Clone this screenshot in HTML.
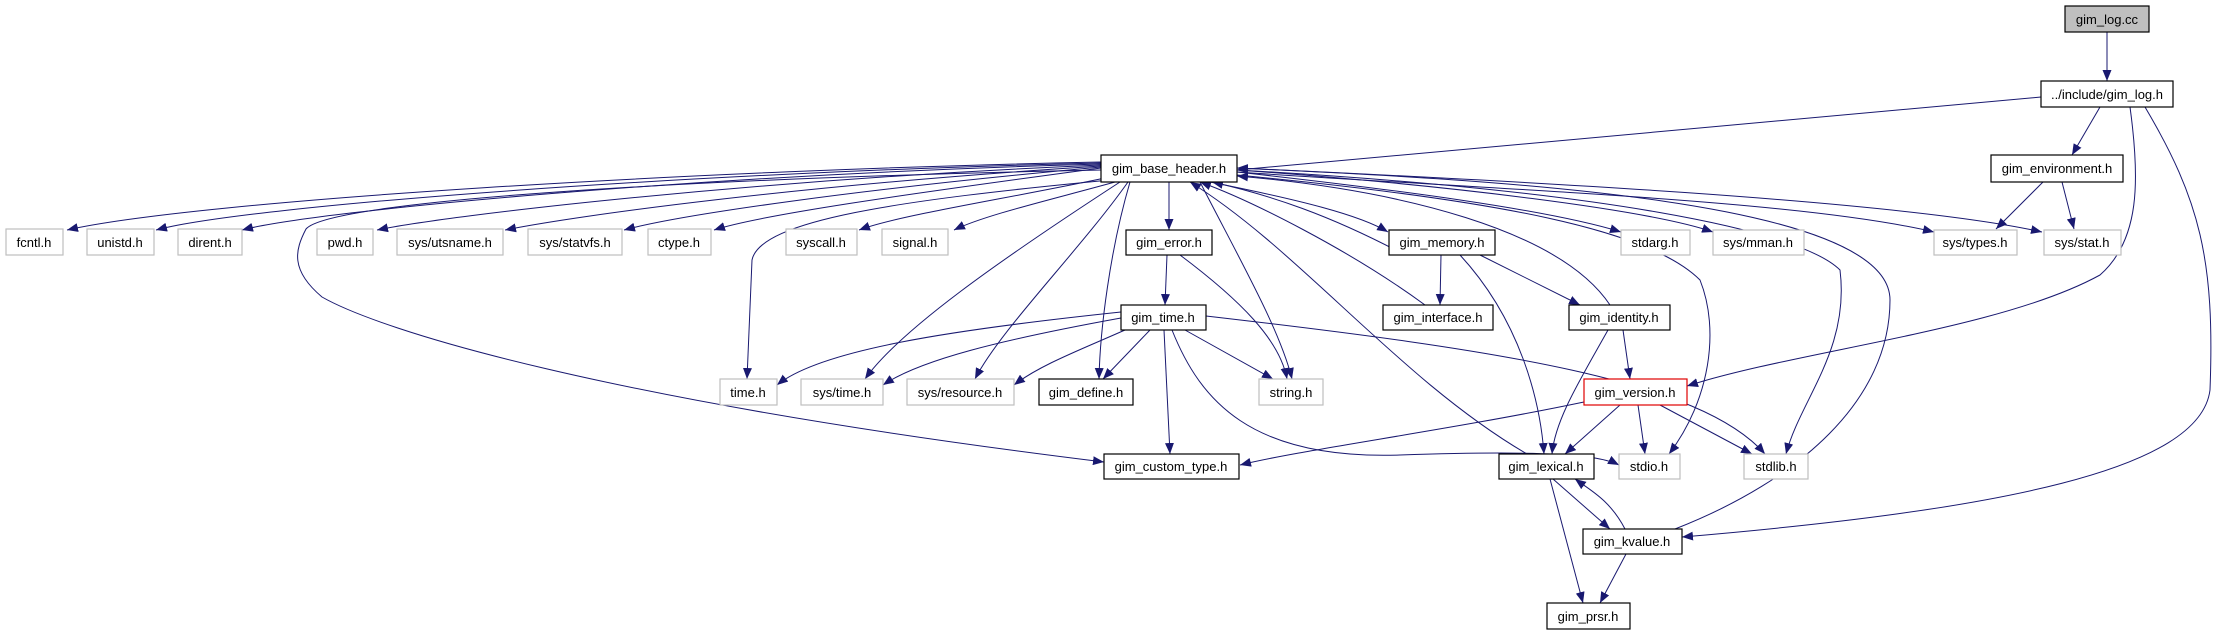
<!DOCTYPE html>
<html><head><meta charset="utf-8"><style>
html,body{margin:0;padding:0;background:#fff;width:2215px;height:635px;overflow:hidden}
svg text{font-family:"Liberation Sans",sans-serif;font-size:13px;fill:#000}
</style></head><body>
<svg width="2215" height="635" viewBox="0 0 2215 635" xmlns="http://www.w3.org/2000/svg">
<defs><marker id="a" markerUnits="userSpaceOnUse" markerWidth="12" markerHeight="9" refX="11" refY="4.5" orient="auto"><path d="M0,0 L11,4.5 L0,9 z" fill="#191970"/></marker></defs>
<g fill="none" stroke="#191970" stroke-width="1" marker-end="url(#a)">
<path d="M2107,32 L2107,81"/>
<path d="M2041,97 L1237,170"/>
<path d="M2100,107 L2072,155"/>
<path d="M2130,107 C2140,180 2140,240 2100,275 C2000,330 1800,350 1687,386"/>
<path d="M2145,107 C2200,200 2215,260 2210,390 C2200,470 2000,510 1682,537"/>
<path d="M2043,182 L1996,229"/>
<path d="M2062,182 L2074,229"/>
<path d="M1237,172 C1500,190 1800,200 1934,232"/>
<path d="M1237,168 C1500,180 1900,200 2042,232"/>
<path d="M1237,172 C1400,190 1550,210 1621,232"/>
<path d="M1237,170 C1450,185 1650,210 1713,232"/>
<path d="M1237,175 C1500,200 1650,230 1700,280 C1720,330 1710,400 1669,454"/>
<path d="M1237,170 C1600,190 1800,230 1840,270 C1850,350 1800,400 1786,454"/>
<path d="M1675,529 C1800,480 1890,400 1890,300 C1890,200 1500,180 1237,168"/>
<path d="M1169,182 L1169,230"/>
<path d="M1167,255 L1165,305"/>
<path d="M1180,255 C1240,300 1280,340 1287,379"/>
<path d="M1200,182 C1240,260 1280,330 1292,379"/>
<path d="M1130,182 C1110,250 1100,330 1099,379"/>
<path d="M1101,170 C700,178 330,200 306,229 C295,250 290,270 322,297 C380,330 600,400 1104,462"/>
<path d="M1110,180 C900,200 760,220 752,260 L747,379"/>
<path d="M1120,182 C1000,260 900,330 865,379"/>
<path d="M1128,182 C1080,250 1000,330 975,379"/>
<path d="M1121,312 C950,330 820,350 777,385"/>
<path d="M1121,318 C1000,340 920,360 883,385"/>
<path d="M1125,330 C1080,350 1040,365 1014,385"/>
<path d="M1150,330 L1103,379"/>
<path d="M1185,330 L1273,379"/>
<path d="M1164,330 L1170,454"/>
<path d="M1172,330 C1200,400 1250,460 1400,455 C1550,450 1600,455 1619,465"/>
<path d="M1206,316 C1500,350 1700,380 1765,454"/>
<path d="M1210,182 C1300,200 1360,215 1388,232"/>
<path d="M1405,255 C1330,215 1270,195 1212,182"/>
<path d="M1441,255 L1440,305"/>
<path d="M1480,255 L1580,305"/>
<path d="M1460,255 C1520,320 1540,400 1544,454"/>
<path d="M1425,305 C1350,250 1250,200 1200,182"/>
<path d="M1610,305 C1560,230 1400,190 1237,176"/>
<path d="M1623,330 L1630,379"/>
<path d="M1608,330 C1580,380 1555,420 1552,454"/>
<path d="M1584,402 C1450,430 1300,450 1240,465"/>
<path d="M1620,405 L1565,454"/>
<path d="M1638,405 L1645,454"/>
<path d="M1660,405 L1752,454"/>
<path d="M1527,454 C1400,380 1300,250 1190,182"/>
<path d="M1553,479 L1610,529"/>
<path d="M1625,529 C1610,500 1590,490 1575,479"/>
<path d="M1550,479 L1583,603"/>
<path d="M1626,554 L1600,603"/>
<path d="M1101,162 C700,170 200,200 67,230"/>
<path d="M1101,163 C700,172 250,205 156,230"/>
<path d="M1101,164 C700,175 320,210 242,230"/>
<path d="M1101,165 C750,180 450,215 377,230"/>
<path d="M1101,166 C800,185 580,215 505,230"/>
<path d="M1101,167 C850,190 680,215 624,230"/>
<path d="M1101,168 C900,195 760,215 714,230"/>
<path d="M1105,178 C1000,200 900,215 859,230"/>
<path d="M1115,182 C1050,200 985,215 954,230"/>
</g>
<g stroke-width="1.2" fill="#fff">
<rect x="2065" y="6" width="84" height="26" fill="#bfbfbf" stroke="#000"/>
<rect x="2041" y="81" width="132" height="26" stroke="#000"/>
<rect x="1101" y="155" width="136" height="27" stroke="#000"/>
<rect x="1991" y="155" width="132" height="27" stroke="#000"/>
<rect x="1126" y="230" width="86" height="25" stroke="#000"/>
<rect x="1389" y="230" width="106" height="25" stroke="#000"/>
<rect x="1121" y="305" width="85" height="25" stroke="#000"/>
<rect x="1383" y="305" width="110" height="25" stroke="#000"/>
<rect x="1569" y="305" width="101" height="25" stroke="#000"/>
<rect x="1039" y="379" width="94" height="26" stroke="#000"/>
<rect x="1584" y="379" width="103" height="26" stroke="#e00000"/>
<rect x="1104" y="454" width="135" height="25" stroke="#000"/>
<rect x="1499" y="454" width="95" height="25" stroke="#000"/>
<rect x="1583" y="529" width="99" height="25" stroke="#000"/>
<rect x="1547" y="603" width="83" height="26" stroke="#000"/>
</g>
<g stroke="#bfbfbf" stroke-width="1.2" fill="#fff">
<rect x="6" y="229" width="57" height="26"/><rect x="87" y="229" width="67" height="26"/>
<rect x="178" y="229" width="64" height="26"/><rect x="317" y="229" width="56" height="26"/>
<rect x="397" y="229" width="106" height="26"/><rect x="528" y="229" width="94" height="26"/>
<rect x="648" y="229" width="63" height="26"/><rect x="786" y="229" width="71" height="26"/>
<rect x="882" y="229" width="66" height="26"/>
<rect x="1621" y="230" width="69" height="25"/><rect x="1713" y="230" width="91" height="25"/>
<rect x="1934" y="230" width="83" height="25"/><rect x="2044" y="230" width="77" height="25"/>
<rect x="720" y="379" width="57" height="26"/><rect x="801" y="379" width="82" height="26"/>
<rect x="907" y="379" width="107" height="26"/><rect x="1259" y="379" width="64" height="26"/>
<rect x="1619" y="454" width="61" height="25"/><rect x="1744" y="454" width="64" height="25"/>
</g>
<g text-anchor="middle">
<text x="2107" y="24">gim_log.cc</text>
<text x="2107" y="99">../include/gim_log.h</text>
<text x="1169" y="173">gim_base_header.h</text>
<text x="2057" y="173">gim_environment.h</text>
<text x="1169" y="247">gim_error.h</text>
<text x="1442" y="247">gim_memory.h</text>
<text x="1163" y="322">gim_time.h</text>
<text x="1438" y="322">gim_interface.h</text>
<text x="1619" y="322">gim_identity.h</text>
<text x="1086" y="397">gim_define.h</text>
<text x="1635" y="397">gim_version.h</text>
<text x="1171" y="471">gim_custom_type.h</text>
<text x="1546" y="471">gim_lexical.h</text>
<text x="1632" y="546">gim_kvalue.h</text>
<text x="1588" y="621">gim_prsr.h</text>
<text x="34" y="247">fcntl.h</text><text x="120" y="247">unistd.h</text>
<text x="210" y="247">dirent.h</text><text x="345" y="247">pwd.h</text>
<text x="450" y="247">sys/utsname.h</text><text x="575" y="247">sys/statvfs.h</text>
<text x="679" y="247">ctype.h</text><text x="821" y="247">syscall.h</text>
<text x="915" y="247">signal.h</text>
<text x="1655" y="247">stdarg.h</text><text x="1758" y="247">sys/mman.h</text>
<text x="1975" y="247">sys/types.h</text><text x="2082" y="247">sys/stat.h</text>
<text x="748" y="397">time.h</text><text x="842" y="397">sys/time.h</text>
<text x="960" y="397">sys/resource.h</text><text x="1291" y="397">string.h</text>
<text x="1649" y="471">stdio.h</text><text x="1776" y="471">stdlib.h</text>
</g>
</svg>
</body></html>
